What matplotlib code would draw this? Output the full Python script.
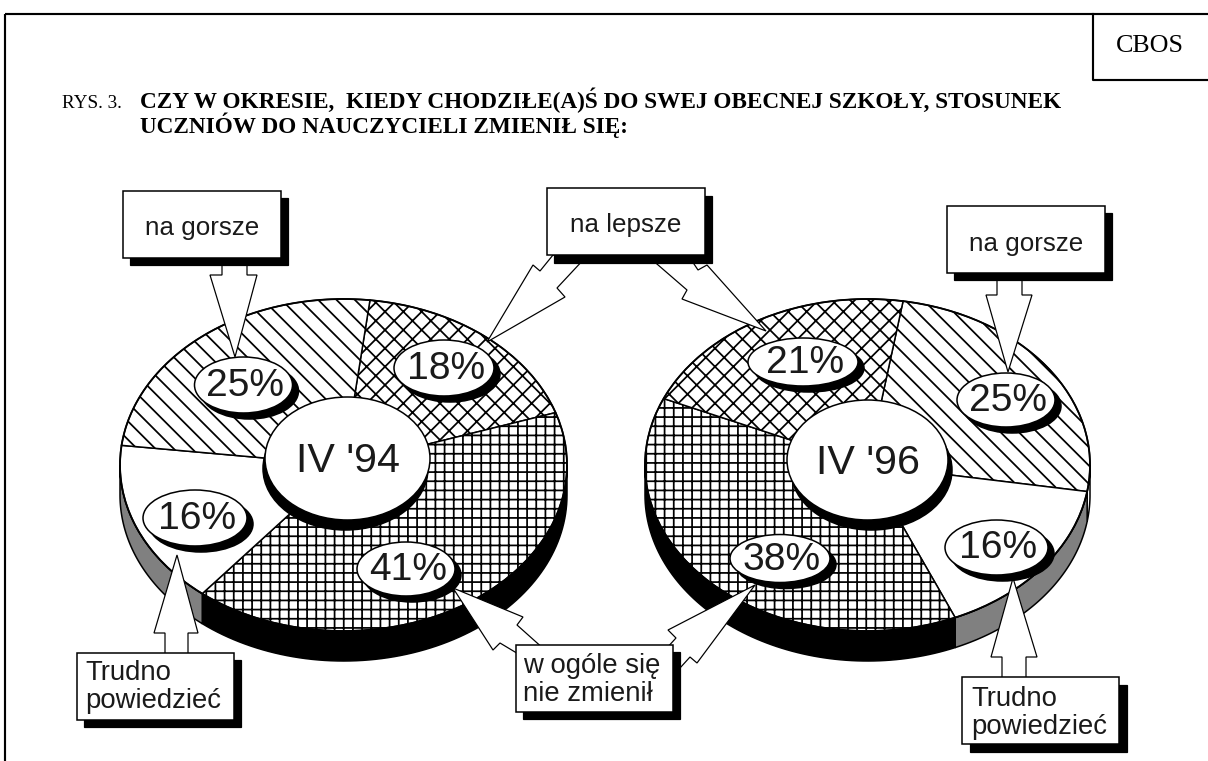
import numpy as np
import matplotlib
matplotlib.use("Agg")
import matplotlib.pyplot as plt
from matplotlib.patches import Wedge, Ellipse, Polygon, Rectangle
from matplotlib.transforms import Affine2D

# ---------------- data ----------------
categories = ["na lepsze", "na gorsze", "w ogóle się\nnie zmienił", "Trudno\npowiedzieć"]
values_94 = [18, 25, 41, 16]
values_96 = [21, 25, 38, 16]
pie_titles = ["IV '94", "IV '96"]
title_prefix = "RYS. 3."
title_lines = ["CZY W OKRESIE,  KIEDY CHODZIŁE(A)Ś DO SWEJ OBECNEJ SZKOŁY, STOSUNEK",
               "UCZNIÓW DO NAUCZYCIELI ZMIENIŁ SIĘ:"]
source = "CBOS"

# ---------------- style / layout ----------------
DPI = 110
W, H = 1208, 761
hatches = ["xx", "\\\\", "++", ""]
side_colors = ["white", "white", "black", "#808080"]
SANS = "Liberation Sans"
SERIF = "Liberation Serif"
TXT = "#1a1a1a"

# pie geometry (pixel space): centre, semi-axes, depth, start angle, clockwise order
pies = [
    dict(values=values_94, cx=343.5, cy=465, a=223.5, b=166, depth=30, start=83.2,
         order=[0, 2, 3, 1],
         label_pos={0: (444, 368, 50, 28), 1: (243.5, 385, 49, 28),
                    2: (406, 569, 49, 27), 3: (195, 518, 52, 28)},
         centre=(347.5, 458.5, 82.5, 61.5, -2, 10)),
    dict(values=values_96, cx=867.5, cy=465, a=222.5, b=166, depth=30, start=80.8,
         order=[1, 3, 2, 0],
         label_pos={0: (803, 362, 55, 24), 1: (1006, 400, 49, 27),
                    2: (780, 558.5, 50, 24), 3: (996.5, 547.5, 51.5, 27.5)},
         centre=(867.5, 460, 80.5, 60, 4, 10)),
]

fig = plt.figure(figsize=(W / DPI, H / DPI), dpi=DPI)
ax = fig.add_axes([0, 0, 1, 1])
ax.set_xlim(0, W)
ax.set_ylim(H, 0)
ax.axis("off")
plt.rcParams["hatch.linewidth"] = 1.15


def ell_pt(p, t_deg):
    t = np.radians(t_deg)
    return p["cx"] + p["a"] * np.cos(t), p["cy"] - p["b"] * np.sin(t)


for p in pies:
    total = float(sum(p["values"]))
    tr = Affine2D().scale(p["a"], -p["b"]).translate(p["cx"], p["cy"]) + ax.transData
    t = p["start"]
    spans = []
    for idx in p["order"]:
        span = 360.0 * p["values"][idx] / total
        spans.append((idx, t - span, t))
        t -= span
    # sides (front half only)
    for idx, t1, t2 in spans:
        t1n = t1 % 360.0
        t2n = t1n + (t2 - t1)
        for lo, hi in [(180, 360), (540, 720)]:
            s, e = max(t1n, lo), min(t2n, hi)
            if e > s:
                ts = np.linspace(s, e, 80)
                top = [ell_pt(p, v) for v in ts]
                bot = [(x, y + p["depth"]) for x, y in top[::-1]]
                ax.add_patch(Polygon(top + bot, closed=True, fc=side_colors[idx],
                                     ec="black", lw=1.0, zorder=1))
    # top face wedges
    for idx, t1, t2 in spans:
        ax.add_patch(Wedge((0, 0), 1, t1, t2, transform=tr, fc="white",
                           hatch=hatches[idx], ec="black", lw=1.0, zorder=2))
    ax.add_patch(Ellipse((p["cx"], p["cy"]), 2 * p["a"], 2 * p["b"], fill=False,
                         ec="black", lw=1.2, zorder=3))

# ---------------- arrows (under boxes / labels) ----------------
arrow_shapes = [
    # na gorsze (left) straight arrow down
    [(222, 250), (222, 275), (210, 275), (235, 357), (257, 275), (247, 275), (247, 250)],
    # na gorsze (right)
    [(997, 265), (997, 295), (986, 295), (1008, 372), (1032, 295), (1022, 295), (1022, 265)],
    # Trudno (left) arrow up
    [(165, 665), (165, 633), (154, 633), (177, 555), (198, 633), (188, 633), (188, 665)],
    # Trudno (right)
    [(1002, 690), (1002, 657), (991, 657), (1013, 578), (1037, 657), (1026, 657), (1026, 690)],
    # na lepsze -> 18%
    [(553, 255), (540, 271), (533, 265), (487, 342), (565, 297), (557, 288), (585, 258)],
    # na lepsze -> 21%
    [(650, 258), (687, 290), (682, 299), (766, 331), (707, 265), (698, 270), (690, 258)],
    # nie zmienił -> 41%
    [(520, 655), (500, 643), (493, 650), (453, 588), (523, 617), (517, 625), (545, 650)],
    # nie zmienił -> 38%
    [(755, 585), (668, 630), (676, 638), (665, 650), (680, 668), (690, 657), (697, 663)],
]
for pts in arrow_shapes:
    ax.add_patch(Polygon(pts, closed=True, fc="white", ec="black", lw=0.8,
                         joinstyle="miter", zorder=4))

# ---------------- callout boxes ----------------
boxes = [
    # (x0, y0, w, h, shadow dx, dy, category index, align, text x, first baseline)
    (123, 191, 158, 67, 7, 7, 1, "center", None, 235),
    (547, 188, 158, 67, 7, 8, 0, "center", None, 232),
    (947, 206, 158, 67, 7, 7, 1, "center", None, 251),
    (77, 653, 157, 67, 7, 7, 3, "left", 85, 680),
    (516, 645, 157, 67, 7, 7, 2, "left", 523, 673),
    (962, 677, 157, 67, 8, 8, 3, "left", 971, 706),
]
for x0, y0, w, h, dx, dy, ci, al, tx, base in boxes:
    ax.add_patch(Rectangle((x0 + dx, y0 + dy), w, h, fc="black", ec="black", lw=0.8, zorder=5))
    ax.add_patch(Rectangle((x0, y0), w, h, fc="white", ec="black", lw=1.0, zorder=6))
    lines = categories[ci].split("\n")
    for k, line in enumerate(lines):
        if al == "center":
            ax.text(x0 + w / 2, base + 28 * k, line, ha="center", va="baseline",
                    family=SANS, fontsize=17, color=TXT, zorder=7)
        else:
            ax.text(tx, base + 28 * k, line, ha="left", va="baseline",
                    family=SANS, fontsize=18, color=TXT, zorder=7)

# ---------------- label ellipses ----------------
for p, title in zip(pies, pie_titles):
    for idx, (ex, ey, ea, eb) in p["label_pos"].items():
        ax.add_patch(Ellipse((ex + 6, ey + 6), 2 * ea, 2 * eb, fc="black", ec="black", zorder=8))
        ax.add_patch(Ellipse((ex, ey), 2 * ea, 2 * eb, fc="white", ec="black", lw=1.0, zorder=9))
        ax.text(ex + 2, ey + 1, f"{p['values'][idx]}%", ha="center", va="center",
                family=SANS, fontsize=25.5, color=TXT, zorder=10)
    cx, cy, ca, cb, sdx, sdy = p["centre"]
    ax.add_patch(Ellipse((cx + sdx, cy + sdy), 2 * ca, 2 * cb, fc="black", ec="black", zorder=8))
    ax.add_patch(Ellipse((cx, cy), 2 * ca, 2 * cb, fc="white", ec="black", lw=1.0, zorder=9))
    ax.text(cx, cy + 3, title, ha="center", va="center", family=SANS, fontsize=27,
            color=TXT, zorder=10)

# ---------------- frame, title, source ----------------
ax.plot([5, W], [14, 14], color="black", lw=1.4, solid_capstyle="butt", zorder=11)
ax.plot([5, 5], [14, H], color="black", lw=1.4, solid_capstyle="butt", zorder=11)
ax.plot([1093, 1093, W], [14, 80, 80], color="black", lw=1.4, zorder=11)
ax.text(1150, 46, source, ha="center", va="center", family=SERIF, fontsize=17,
        color="black", zorder=12)
ax.text(62, 108, title_prefix, ha="left", va="baseline", family=SERIF, fontsize=12.5,
        color="black", zorder=12)
for k, line in enumerate(title_lines):
    ax.text(140, 108 + 25 * k, line, ha="left", va="baseline", family=SERIF,
            fontsize=15.2, fontweight="bold", color="black", zorder=12)

fig.savefig("out.png", dpi=DPI)
